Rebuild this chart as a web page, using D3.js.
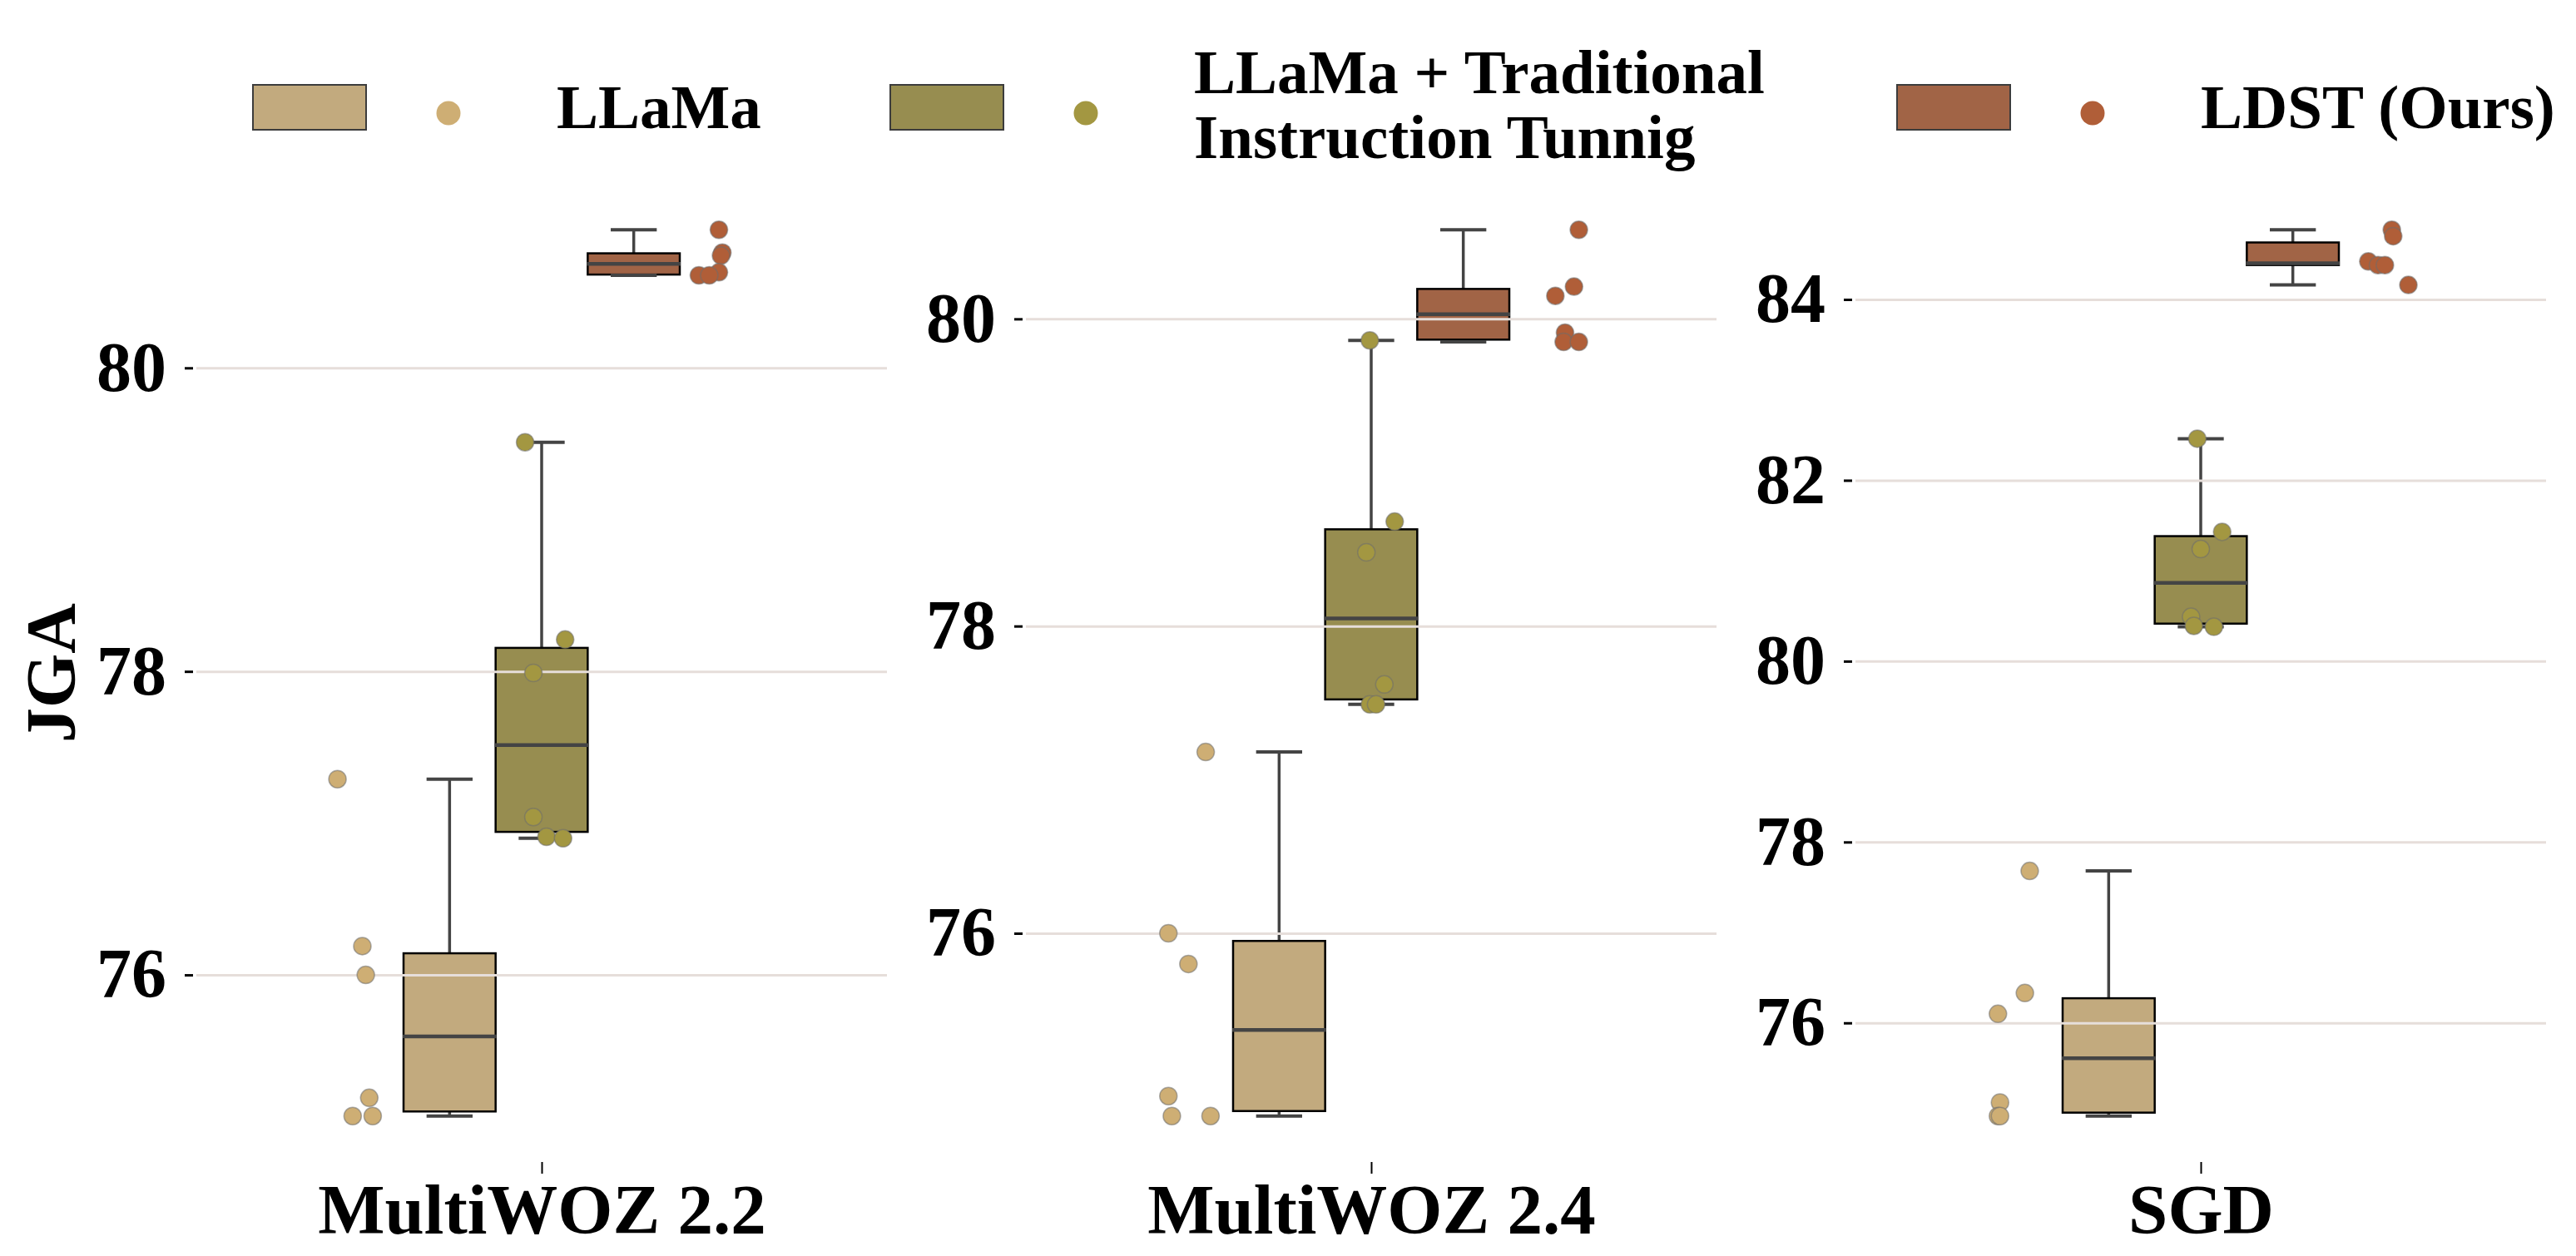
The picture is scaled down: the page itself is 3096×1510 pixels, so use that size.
<!DOCTYPE html>
<html>
<head>
<meta charset="utf-8">
<script src="https://cdn.jsdelivr.net/npm/d3@7"></script>
<style>
  body { margin: 0; background: #fff; }
  svg { display: block; }
</style>
</head>
<body>
<div id="chart"></div>
<script>
var width = 3096;
var height = 1510;

// data
var datasets = ["MultiWOZ 2.2", "MultiWOZ 2.4", "SGD"];
var methods = ["LLaMa", "LLaMa + Traditional Instruction Tunnig", "LDST (Ours)"];
var legendLines = [["LLaMa"], ["LLaMa + Traditional", "Instruction Tunnig"], ["LDST (Ours)"]];

// JGA of each run, one array per dataset
var llamaScores = [
  [77.29, 76.19, 76.00, 75.19, 75.07, 75.07],
  [77.18, 76.00, 75.80, 74.94, 74.81, 74.81],
  [77.68, 76.33, 76.10, 75.12, 74.97, 74.97]
];
var tradScores = [
  [79.51, 78.21, 77.99, 77.04, 76.91, 76.90],
  [79.86, 78.68, 78.48, 77.62, 77.49, 77.49],
  [82.46, 81.43, 81.24, 80.49, 80.39, 80.38]
];
var ldstScores = [
  [80.91, 80.76, 80.74, 80.63, 80.61, 80.61],
  [80.58, 80.21, 80.15, 79.91, 79.85, 79.85],
  [84.77, 84.70, 84.42, 84.38, 84.38, 84.16]
];

// strip jitter of every point (category units), as seen in the picture
var llamaJitter = [
  [-0.029, 0.007, 0.012, 0.017, -0.007, 0.022],
  [0.027, -0.027, 0.002, -0.027, -0.022, 0.034],
  [0.019, 0.012, -0.027, -0.024, -0.027, -0.024]
];
var tradJitter = [
  [-0.024, 0.034, -0.012, -0.012, 0.007, 0.031],
  [-0.002, 0.034, -0.007, 0.019, -0.002, 0.007],
  [-0.005, 0.031, 0.000, -0.014, -0.010, 0.019]
];
var ldstJitter = [
  [-0.010, -0.005, -0.007, -0.010, -0.039, -0.024],
  [0.034, 0.027, 0.000, 0.014, 0.012, 0.034],
  [0.010, 0.012, -0.024, -0.010, 0.000, 0.034]
];

var yTicks = [
  [76, 78, 80],
  [76, 78, 80],
  [76, 78, 80, 82, 84]
];

var boxColors = ["#c2aa7e", "#978d50", "#a16446"];
var pointColors = ["#ceae74", "#a39741", "#b05e38"];

// layout
var panelLeft = [236, 1233, 2230];
var panelWidth = 830;
var plotTop = 223;
var plotBottom = 1395;
var boxWidth = 0.4;     // seaborn style total box width per category
var stripWidth = 0.8;   // dodge width of the strip points
var fontFamily = "'Liberation Serif', 'Times New Roman', serif";

function createSVG(width, height) {
  return d3.select("#chart")
    .append("svg")
    .attr("width", width)
    .attr("height", height)
    .style("background", "#fff");
}

function boxStats(values) {
  var s = values.slice().sort(d3.ascending);
  var q1 = d3.quantile(s, 0.25);
  var med = d3.quantile(s, 0.5);
  var q3 = d3.quantile(s, 0.75);
  var iqr = q3 - q1;
  var inside = s.filter(function(v) { return v >= q1 - 1.5 * iqr && v <= q3 + 1.5 * iqr; });
  return { q1: q1, med: med, q3: q3, lo: d3.min(inside), hi: d3.max(inside) };
}

function drawPanel(svg, p) {
  var scores = [llamaScores[p], tradScores[p], ldstScores[p]];
  var jitter = [llamaJitter[p], tradJitter[p], ldstJitter[p]];

  var all = d3.merge(scores);
  var ext = d3.extent(all);
  var pad = (ext[1] - ext[0]) * 0.05;

  var y = d3.scaleLinear()
    .domain([ext[0] - pad, ext[1] + pad])
    .range([plotBottom, plotTop]);

  var x = d3.scaleLinear()
    .domain([-0.5, 0.5])
    .range([panelLeft[p], panelLeft[p] + panelWidth]);

  var g = svg.append("g");

  // boxes
  var step = boxWidth / methods.length;
  var half = (x(step) - x(0)) / 2;
  scores.forEach(function(vals, i) {
    var st = boxStats(vals);
    var cx = x((i - 1) * step);
    var bg = g.append("g");

    bg.append("line")
      .attr("x1", cx).attr("x2", cx)
      .attr("y1", y(st.q3)).attr("y2", y(st.hi))
      .style("stroke", "#444").style("stroke-width", 3.5);
    bg.append("line")
      .attr("x1", cx).attr("x2", cx)
      .attr("y1", y(st.q1)).attr("y2", y(st.lo))
      .style("stroke", "#444").style("stroke-width", 3.5);

    bg.append("rect")
      .attr("x", cx - half)
      .attr("y", y(st.q3))
      .attr("width", half * 2)
      .attr("height", y(st.q1) - y(st.q3))
      .style("fill", boxColors[i])
      .style("stroke", "#000")
      .style("stroke-width", 2.5);

    [st.lo, st.hi].forEach(function(v) {
      bg.append("line")
        .attr("x1", cx - half / 2).attr("x2", cx + half / 2)
        .attr("y1", y(v)).attr("y2", y(v))
        .style("stroke", "#444").style("stroke-width", 4);
    });

    bg.append("line")
      .attr("x1", cx - half - 1).attr("x2", cx + half + 1)
      .attr("y1", y(st.med)).attr("y2", y(st.med))
      .style("stroke", "#444").style("stroke-width", 4.5);
  });

  // grid lines sit over the boxes
  var grid = g.append("g")
    .attr("transform", "translate(" + panelLeft[p] + ",0)")
    .call(d3.axisLeft(y).tickValues(yTicks[p]).tickSize(-panelWidth).tickFormat(""));
  grid.select(".domain").remove();
  grid.selectAll("line")
    .style("stroke", "#e6deda")
    .style("stroke-width", 3);

  // y ticks
  var yAxis = g.append("g")
    .attr("transform", "translate(" + (panelLeft[p] - 4) + ",0)")
    .call(d3.axisLeft(y).tickValues(yTicks[p]).tickFormat(d3.format("d"))
      .tickSize(10).tickPadding(22));
  yAxis.select(".domain").remove();
  yAxis.selectAll("line").style("stroke", "#000").style("stroke-width", 3);
  yAxis.selectAll("text")
    .style("font-family", fontFamily)
    .style("font-size", "84px")
    .style("font-weight", "bold")
    .style("fill", "#000");

  // x tick + dataset label
  var xAxis = g.append("g")
    .attr("transform", "translate(0," + (plotBottom + 2) + ")")
    .call(d3.axisBottom(x).tickValues([0]).tickFormat(function() { return datasets[p]; })
      .tickSize(14).tickPadding(12));
  xAxis.select(".domain").remove();
  xAxis.selectAll("line").style("stroke", "#000").style("stroke-width", 2);
  xAxis.selectAll("text")
    .style("font-family", fontFamily)
    .style("font-size", "85px")
    .style("font-weight", "bold")
    .style("fill", "#000");

  // strip points
  var sstep = stripWidth / methods.length;
  scores.forEach(function(vals, i) {
    g.append("g")
      .selectAll("circle")
      .data(vals)
      .enter()
      .append("circle")
      .attr("cx", function(d, k) { return x((i - 1) * sstep + jitter[i][k]); })
      .attr("cy", function(d) { return y(d); })
      .attr("r", 10.5)
      .style("fill", pointColors[i])
      .style("stroke", "rgba(110,110,110,0.55)")
      .style("stroke-width", 1.5);
  });
}

function createLegend(svg) {
  var legendX = [304, 1070, 2280];
  var legend = svg.append("g");

  methods.forEach(function(m, i) {
    var item = legend.append("g")
      .attr("transform", "translate(" + legendX[i] + ",0)");

    item.append("rect")
      .attr("x", 0)
      .attr("y", 102)
      .attr("width", 136)
      .attr("height", 54)
      .style("fill", boxColors[i])
      .style("stroke", "#3c3c3c")
      .style("stroke-width", 2);

    item.append("circle")
      .attr("cx", 235)
      .attr("cy", 136)
      .attr("r", 14.5)
      .style("fill", pointColors[i]);

    var lines = legendLines[i];
    var text = item.append("text")
      .attr("x", 365)
      .style("font-family", fontFamily)
      .style("font-size", "75px")
      .style("font-weight", "bold")
      .style("fill", "#000");
    lines.forEach(function(line, k) {
      var base = lines.length === 1 ? 154 : 112 + k * 78;
      text.append("tspan")
        .attr("x", 365)
        .attr("y", base)
        .text(line);
    });
  });
}

function main() {
  var svg = createSVG(width, height);
  svg.append("rect").attr("width", width).attr("height", height).style("fill", "#fff");

  datasets.forEach(function(d, p) {
    drawPanel(svg, p);
  });

  svg.append("text")
    .attr("transform", "translate(90," + ((plotTop + plotBottom) / 2) + ") rotate(-90)")
    .attr("text-anchor", "middle")
    .style("font-family", fontFamily)
    .style("font-size", "84px")
    .style("font-weight", "bold")
    .text("JGA");

  createLegend(svg);
}

window.onload = function() {
  main();
};
</script>
</body>
</html>
